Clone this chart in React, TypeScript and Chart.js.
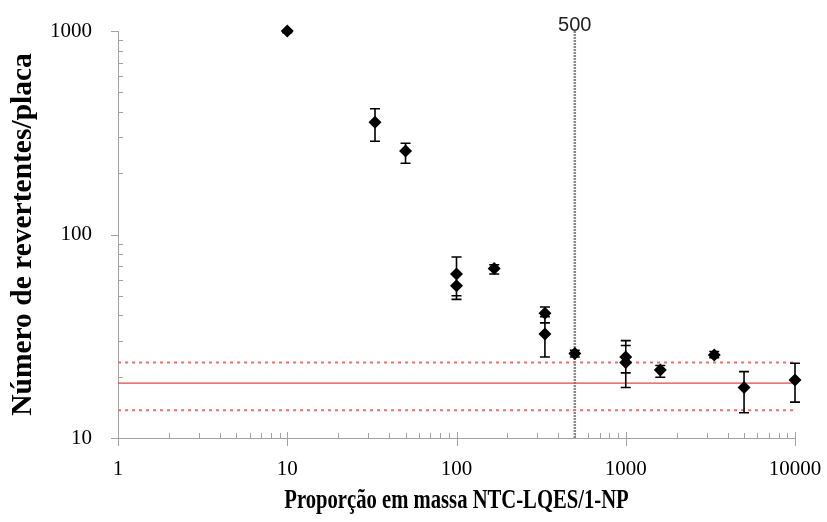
import React, { useEffect, useRef } from 'react';
import { Chart, registerables } from 'chart.js';

Chart.register(...registerables);

// ---- data ----
const xValues = [10, 33, 50, 100, 100, 167, 333, 333, 500, 1000, 1000, 1600, 3333, 5000, 10000];
const yValues = [1000, 356, 257, 64, 56, 68, 41, 32.4, 26, 25, 23.5, 21.6, 25.6, 17.7, 19.3];
const yErrLow = [980, 287, 224, 50, 48, 64, 36.8, 25, 25, 20.9, 17.7, 19.9, 24.8, 13.3, 15.0];
const yErrHigh = [1000, 415, 281, 77.5, 64, 71, 44, 39.5, 27, 30.1, 28.5, 22.7, 26.6, 21.2, 23.3];

const refX = [1, 10000];
const meanLine = [18.6, 18.6];
const upperLimit = [23.5, 23.5];
const lowerLimit = [13.7, 13.7];

const markerX = [500, 500];
const markerY = [10, 1000];
const markerLabel = '500';

const xTickValues = [1, 10, 100, 1000, 10000];
const xTickLabels = ['1', '10', '100', '1000', '10000'];
const yTickValues = [10, 100, 1000];
const yTickLabels = ['10', '100', '1000'];

const xTitle = 'Proporção em massa NTC-LQES/1-NP';
const yTitle = 'Número de revertentes/placa';

const AXIS_COLOR = '#a3a3a3';
const SERIF = '"Liberation Serif", "Times New Roman", serif';

const axisTicksPlugin = {
  id: 'axisTicks',
  beforeDatasetsDraw(chart: any) {
    const { ctx, chartArea, scales } = chart;
    const xs = scales.x;
    const ys = scales.y;
    ctx.save();
    ctx.strokeStyle = AXIS_COLOR;
    ctx.lineWidth = 1;
    ctx.beginPath();
    for (let d = 1; d <= 1000; d *= 10) {
      for (let k = 2; k <= 9; k++) {
        const px = Math.round(xs.getPixelForValue(k * d)) + 0.5;
        ctx.moveTo(px, chartArea.bottom);
        ctx.lineTo(px, chartArea.bottom - 5);
      }
    }
    for (const v of xTickValues) {
      const px = Math.round(xs.getPixelForValue(v)) + 0.5;
      ctx.moveTo(px, chartArea.bottom - 6);
      ctx.lineTo(px, chartArea.bottom + 8);
    }
    for (let d = 10; d <= 100; d *= 10) {
      for (let k = 2; k <= 9; k++) {
        const py = Math.round(ys.getPixelForValue(k * d)) + 0.5;
        ctx.moveTo(chartArea.left, py);
        ctx.lineTo(chartArea.left + 5, py);
      }
    }
    for (const v of yTickValues) {
      const py = Math.round(ys.getPixelForValue(v)) + 0.5;
      ctx.moveTo(chartArea.left - 7, py);
      ctx.lineTo(chartArea.left, py);
    }
    ctx.stroke();
    ctx.restore();
  },
};

const errorBarsPlugin = {
  id: 'errorBars',
  beforeDatasetDraw(chart: any, args: any) {
    if (args.index !== 0) return;
    const { ctx, scales } = chart;
    const xs = scales.x;
    const ys = scales.y;
    ctx.save();
    ctx.strokeStyle = '#000';
    ctx.lineWidth = 1.6;
    ctx.beginPath();
    for (let i = 0; i < xValues.length; i++) {
      const px = xs.getPixelForValue(xValues[i]);
      const pLow = ys.getPixelForValue(yErrLow[i]);
      const pHigh = ys.getPixelForValue(yErrHigh[i]);
      ctx.moveTo(px, pLow);
      ctx.lineTo(px, pHigh);
      ctx.moveTo(px - 5, pLow);
      ctx.lineTo(px + 5, pLow);
      ctx.moveTo(px - 5, pHigh);
      ctx.lineTo(px + 5, pHigh);
    }
    ctx.stroke();
    ctx.restore();
  },
};

const textPlugin = {
  id: 'extraText',
  afterDraw(chart: any) {
    const { ctx, chartArea, scales } = chart;
    ctx.save();
    // marker label
    ctx.fillStyle = '#222';
    ctx.font = '20px "Liberation Sans", Arial, sans-serif';
    ctx.textAlign = 'center';
    ctx.textBaseline = 'middle';
    ctx.fillText(markerLabel, scales.x.getPixelForValue(markerX[0]), 25);
    // x axis title (condensed)
    ctx.fillStyle = '#000';
    ctx.font = 'bold 27px ' + SERIF;
    ctx.textBaseline = 'alphabetic';
    ctx.translate((chartArea.left + chartArea.right) / 2, 508);
    ctx.scale(0.765, 1);
    ctx.fillText(xTitle, 0, 0);
    ctx.restore();
  },
};

export default function App() {
  const canvasRef = useRef<HTMLCanvasElement | null>(null);

  useEffect(() => {
    if (!canvasRef.current) return;
    const toPts = (xs: number[], ys: number[]) => xs.map((x, i) => ({ x, y: ys[i] }));
    const chart = new Chart(canvasRef.current, {
      type: 'scatter',
      data: {
        datasets: [
          {
            type: 'scatter',
            data: toPts(xValues, yValues),
            pointStyle: 'rectRot',
            pointRadius: 6.5,
            backgroundColor: '#000',
            borderColor: '#000',
            borderWidth: 0,
            clip: false,
          } as any,
          {
            type: 'line',
            data: toPts(refX, meanLine),
            borderColor: '#e04848',
            borderWidth: 1.2,
            pointRadius: 0,
          },
          {
            type: 'line',
            data: toPts(refX, upperLimit),
            borderColor: '#ec7070',
            borderWidth: 2,
            borderDash: [3, 4],
            pointRadius: 0,
          },
          {
            type: 'line',
            data: toPts(refX, lowerLimit),
            borderColor: '#ec7070',
            borderWidth: 2,
            borderDash: [3, 4],
            pointRadius: 0,
          },
          {
            type: 'line',
            data: toPts(markerX, markerY),
            borderColor: '#8a8a8a',
            borderWidth: 2.5,
            borderDash: [2, 1],
            pointRadius: 0,
          },
        ],
      },
      options: {
        animation: false,
        responsive: true,
        maintainAspectRatio: false,
        layout: { autoPadding: false, padding: { top: 31, right: 32, left: 0, bottom: 0 } },
        plugins: {
          legend: { display: false },
          tooltip: { enabled: false },
        },
        scales: {
          x: {
            type: 'logarithmic',
            position: 'bottom',
            min: 1,
            max: 10000,
            afterBuildTicks: (scale: any) => {
              scale.ticks = xTickValues.map((v) => ({ value: v }));
            },
            afterFit: (scale: any) => {
              scale.height = 84;
              scale.paddingLeft = 0;
              scale.paddingRight = 0;
            },
            ticks: {
              autoSkip: false,
              maxRotation: 0,
              padding: 19,
              color: '#000',
              font: { family: SERIF, size: 21 },
              callback: (value: any) => {
                const i = xTickValues.indexOf(Number(value));
                return i >= 0 ? xTickLabels[i] : '';
              },
            },
            grid: { display: false, drawTicks: false },
            border: { display: true, color: AXIS_COLOR, width: 1 },
          },
          y: {
            type: 'logarithmic',
            min: 10,
            max: 1000,
            afterBuildTicks: (scale: any) => {
              scale.ticks = yTickValues.map((v) => ({ value: v }));
            },
            afterFit: (scale: any) => {
              scale.width = 118;
              scale.paddingTop = 0;
              scale.paddingBottom = 0;
            },
            ticks: {
              autoSkip: false,
              padding: 26,
              color: '#000',
              font: { family: SERIF, size: 21 },
              callback: (value: any) => {
                const i = yTickValues.indexOf(Number(value));
                return i >= 0 ? yTickLabels[i] : '';
              },
            },
            grid: { display: false, drawTicks: false },
            border: { display: true, color: AXIS_COLOR, width: 1 },
            title: {
              display: true,
              text: yTitle,
              color: '#000',
              font: { family: SERIF, size: 29.5, weight: 'bold' },
              padding: { top: 6, bottom: 0 },
            },
          },
        },
      } as any,
      plugins: [axisTicksPlugin, errorBarsPlugin, textPlugin],
    });
    return () => chart.destroy();
  }, []);

  return (
    <div style={{ position: 'absolute', left: 0, top: 0, width: 827, height: 522, background: '#fff' }}>
      <canvas ref={canvasRef} />
    </div>
  );
}
